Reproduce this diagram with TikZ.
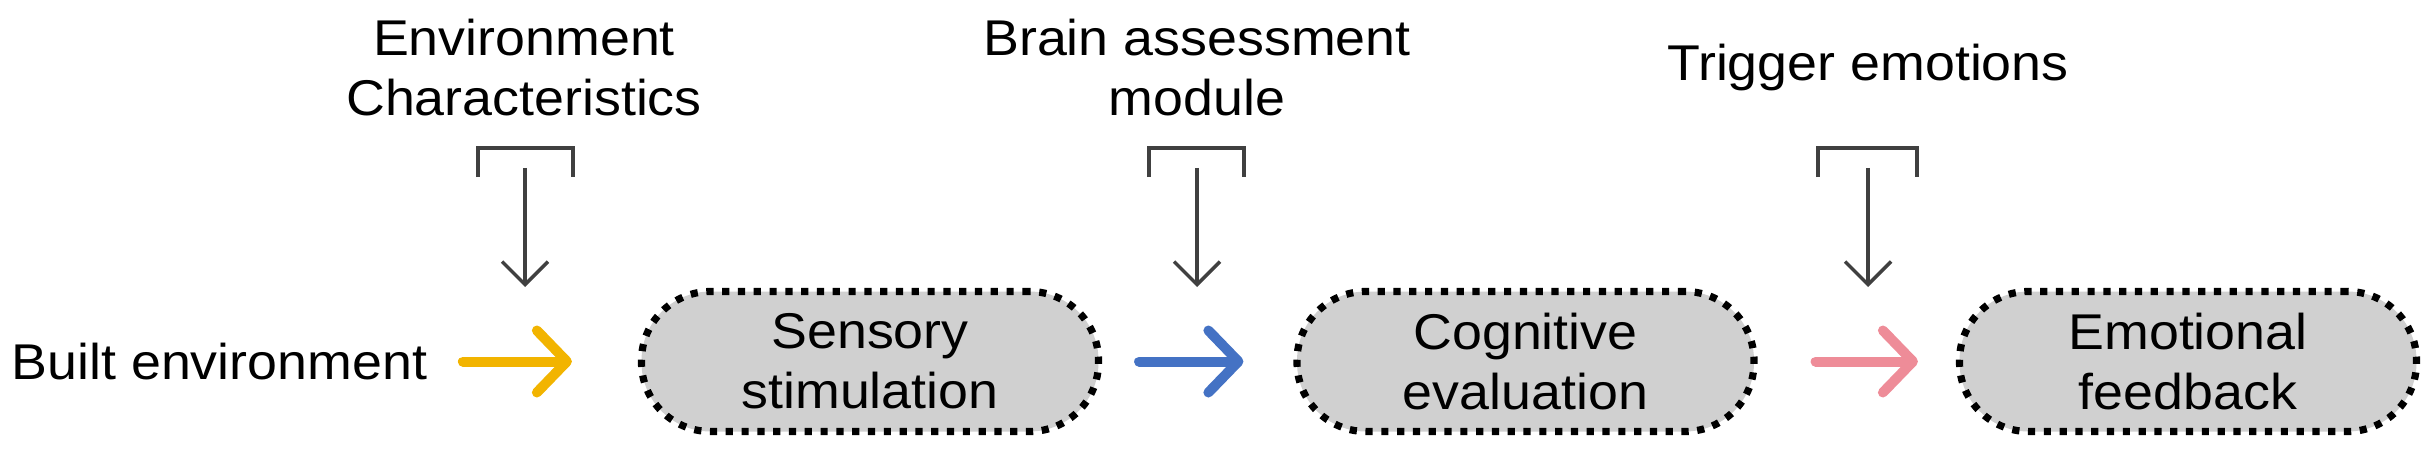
\documentclass[tikz,border=0pt]{standalone}
\usepackage{fontspec}
\setmainfont{Liberation Sans}[FakeStretch=1.07]
\usetikzlibrary{arrows.meta,positioning}

\definecolor{builtyellow}{RGB}{242,180,0}
\definecolor{sensblue}{RGB}{68,114,196}
\definecolor{emopink}{RGB}{238,140,152}
\definecolor{stagegray}{RGB}{208,208,208}
\definecolor{bracketgray}{RGB}{64,64,64}

\tikzset{
  stage/.style={draw=black, fill=stagegray, line width=0.072cm,
    dash pattern=on 0.072cm off 0.086cm, rounded corners=0.69cm,
    minimum width=4.57cm, minimum height=1.4cm, align=center, inner sep=0pt},
  flow/.style={line width=0.1cm, line cap=round,
    -{Straight Barb[length=0.3cm,width=0.62cm,round]}},
  bracket/.style={bracketgray, line width=0.035cm},
  inflow/.style={bracketgray, line width=0.035cm,
    -{Straight Barb[length=0.23cm,width=0.46cm]}},
  label/.style={align=center, inner sep=0pt}
}

\begin{document}
\begin{tikzpicture}[font=\fontsize{14.3}{17.07}\selectfont]

  \useasboundingbox (0,0) rectangle (24.31,4.5);

  % Draw stages
  \node [label, anchor=west] (built) at (0.11,0.885) {Built environment};
  \node [stage] (sens) at (8.70,0.885) {Sensory\\stimulation};
  \node [stage] (cogn) at (15.255,0.885) {Cognitive\\evaluation};
  \node [stage] (emot) at (21.88,0.885) {Emotional\\feedback};

  % Draw flow arrows
  \draw [flow, builtyellow, shorten <=0.35cm, shorten >=0.66cm] (built.east) -- (sens.west);
  \draw [flow, sensblue, shorten <=0.37cm, shorten >=0.5cm] (sens.east) -- (cogn.west);
  \draw [flow, emopink, shorten <=0.58cm, shorten >=0.38cm] (cogn.east) -- (emot.west);

  % Draw top labels
  \node [label] (envchar) at (5.24,3.82) {Environment\\Characteristics};
  \node [label] (brain) at (11.97,3.82) {Brain assessment\\module};
  \node [label] (trigger) at (18.68,3.82) {Trigger emotions};

  % Draw environment input
  \coordinate (EL) at (4.78,2.73);
  \coordinate (ER) at (5.73,2.73);
  \coordinate (E0) at (5.25,2.82);
  \coordinate (E1) at (5.25,1.63);
  \draw [bracket] (EL) |- (5.25,3.02) -| (ER);
  \draw [inflow] (E0) -- (E1);

  % Draw brain input
  \coordinate (BL) at (11.49,2.73);
  \coordinate (BR) at (12.44,2.73);
  \coordinate (B0) at (11.97,2.82);
  \coordinate (B1) at (11.97,1.63);
  \draw [bracket] (BL) |- (11.97,3.02) -| (BR);
  \draw [inflow] (B0) -- (B1);

  % Draw trigger input
  \coordinate (TL) at (18.18,2.73);
  \coordinate (TR) at (19.17,2.73);
  \coordinate (T0) at (18.68,2.82);
  \coordinate (T1) at (18.68,1.63);
  \draw [bracket] (TL) |- (18.68,3.02) -| (TR);
  \draw [inflow] (T0) -- (T1);

\end{tikzpicture}
\end{document}
